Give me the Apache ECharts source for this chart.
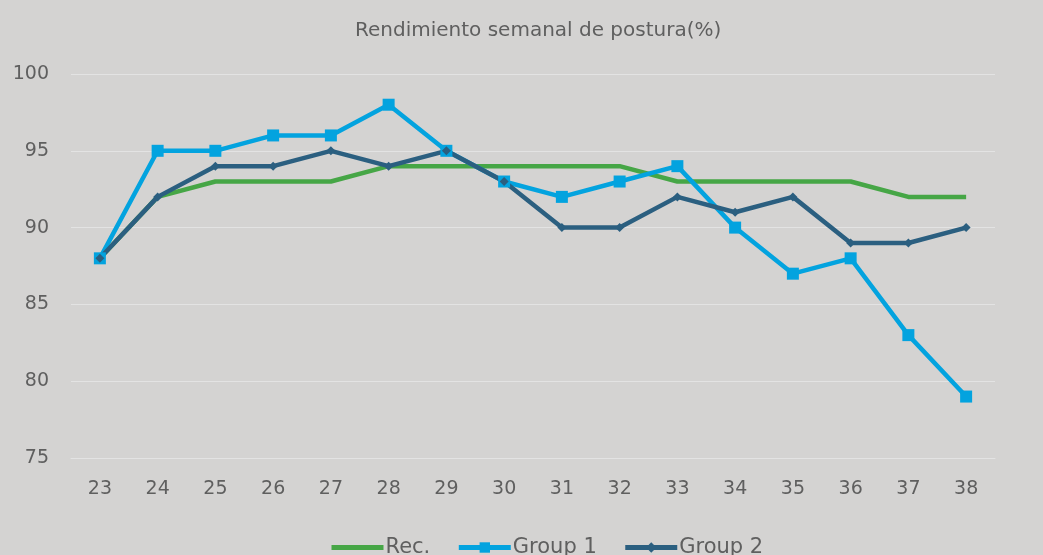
<!DOCTYPE html>
<html>
<head>
<meta charset="utf-8">
<script src="https://cdn.jsdelivr.net/npm/echarts@6/dist/echarts.min.js"></script>
<style>
  html, body { margin: 0; padding: 0; background: #d4d3d2; }
  #chart { width: 1043px; height: 555px; }
</style>
</head>
<body>
<div id="chart"></div>
<script>
// semanas
const weeks = ['23', '24', '25', '26', '27', '28', '29', '30', '31', '32', '33', '34', '35', '36', '37', '38'];

// rendimiento (%)
const recValues = [88, 92, 93, 93, 93, 94, 94, 94, 94, 94, 93, 93, 93, 93, 92, 92];
const group1Values = [88, 95, 95, 96, 96, 98, 95, 93, 92, 93, 94, 90, 87, 88, 83, 79];
const group2Values = [88, 92, 94, 94, 95, 94, 95, 93, 90, 90, 92, 91, 92, 89, 89, 90];

const textColor = '#5f5f5f';
const fontFamily = '"DejaVu Sans", sans-serif';

const chart = echarts.init(document.getElementById('chart'));

const option = {
    backgroundColor: '#d4d3d2',
    animation: false,
    title: {
        text: 'Rendimiento semanal de postura(%)',
        left: 350,
        top: 16,
        textStyle: { color: textColor, fontSize: 20, fontWeight: 'normal', fontFamily }
    },
    legend: {
        bottom: -8,
        left: 324,
        itemWidth: 52,
        itemHeight: 13,
        itemGap: 26,
        lineStyle: { width: 5 },
        textStyle: { color: textColor, fontSize: 21, fontFamily, padding: [0, 0, 0, -3] },
        data: [
            { name: 'Rec.', itemStyle: { opacity: 0 } },
            'Group 1',
            'Group 2'
        ]
    },
    grid: { left: 71, right: 48, top: 74, bottom: 97 },
    xAxis: {
        type: 'category',
        data: weeks,
        boundaryGap: true,
        axisLine: { show: true, lineStyle: { color: '#e3e3e3', width: 1 } },
        axisTick: { show: false },
        axisLabel: { color: textColor, fontSize: 19, fontFamily, margin: 22 }
    },
    yAxis: {
        type: 'value',
        min: 75,
        max: 100,
        interval: 5,
        axisLine: { show: false },
        axisTick: { show: false },
        splitLine: { lineStyle: { color: '#e3e3e3', width: 1 } },
        axisLabel: { color: textColor, fontSize: 19, fontFamily, margin: 22 }
    },
    series: [
        {
            name: 'Rec.',
            type: 'line',
            data: recValues,
            symbol: 'none',
            itemStyle: { color: '#46a646' },
            lineStyle: { color: '#46a646', width: 4.5 }
        },
        {
            name: 'Group 1',
            type: 'line',
            data: group1Values,
            symbol: 'rect',
            symbolSize: 12,
            itemStyle: { color: '#03a3df' },
            lineStyle: { color: '#03a3df', width: 4.5 }
        },
        {
            name: 'Group 2',
            type: 'line',
            data: group2Values,
            symbol: 'diamond',
            symbolSize: 9,
            itemStyle: { color: '#2b5f80' },
            lineStyle: { color: '#2b5f80', width: 4.5 }
        }
    ]
};

chart.setOption(option);
</script>
</body>
</html>
